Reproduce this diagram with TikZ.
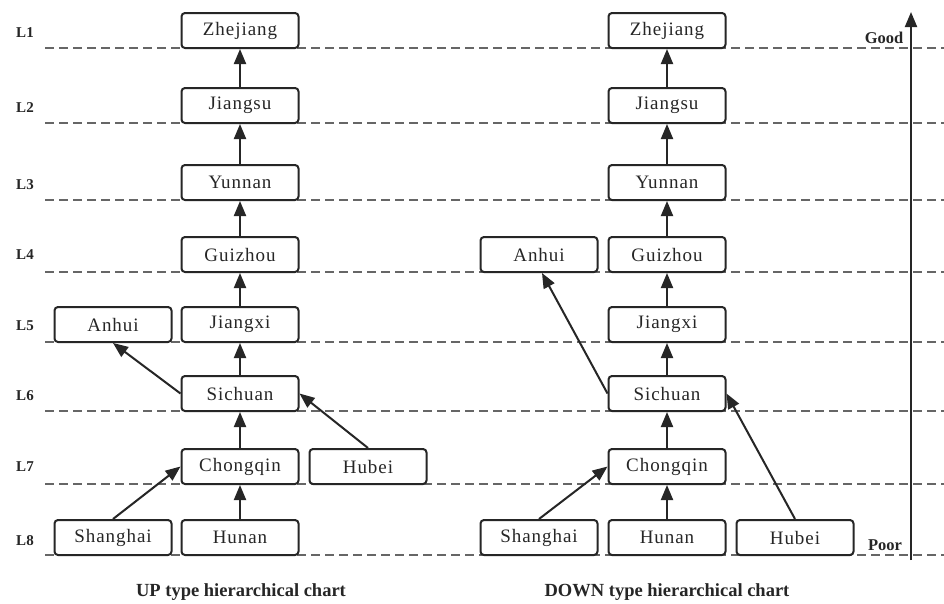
\documentclass[tikz,border=0pt]{standalone}
\usepackage{fontspec}
\setmainfont{Liberation Serif}
\newfontfamily\boxfont[LetterSpace=5]{Liberation Serif}
\usetikzlibrary{arrows.meta}
\tikzset{
  cbox/.style={draw=black!85, line width=2pt, rounded corners=3.5pt, minimum width=117pt, minimum height=35pt, inner sep=0pt, font=\boxfont\fontsize{19}{21}\selectfont, text=black!85},
  arr/.style={draw=black!85, line width=2pt, -{Triangle[length=15pt,width=12pt]}},
  lvl/.style={draw=black!60, line width=1.3pt, dash pattern=on 9pt off 5pt},
  lab/.style={font=\bfseries\fontsize{15}{17}\selectfont, text=black!85},
  captxt/.style={font=\bfseries\fontsize{18.5}{20}\selectfont, text=black!85}
}
\begin{document}
\begin{tikzpicture}[x=1pt,y=-1pt]
\useasboundingbox[fill=white] (0,0) rectangle (944,603);
% level lines
\foreach \yy in {48,123,200,272,342,411,484,555}{
  \draw[lvl] (45,\yy) -- (944,\yy);
}
\node[lab] (l1) at (25,33) {L1};
\node[lab] (l2) at (25,108) {L2};
\node[lab] (l3) at (25,185) {L3};
\node[lab] (l4) at (25,255) {L4};
\node[lab] (l5) at (25,326) {L5};
\node[lab] (l6) at (25,396) {L6};
\node[lab] (l7) at (25,467) {L7};
\node[lab] (l8) at (25,541) {L8};
% left chart
\node[cbox] (zL) at (240,30.5) {Zhejiang};
\node[cbox] (jsL) at (240,105.5) {Jiangsu};
\node[cbox] (yL) at (240,182.5) {Yunnan};
\node[cbox] (gL) at (240,254.5) {Guizhou};
\node[cbox] (jxL) at (240,324.5) {Jiangxi};
\node[cbox] (aL) at (113,324.5) {Anhui};
\node[cbox] (sL) at (240,393.5) {Sichuan};
\node[cbox] (cL) at (240,466.5) {Chongqin};
\node[cbox] (hbL) at (368,466.5) {Hubei};
\node[cbox] (shL) at (113,537.5) {Shanghai};
\node[cbox] (hnL) at (240,537.5) {Hunan};
\draw[arr] (jsL) -- (zL);
\draw[arr] (yL) -- (jsL);
\draw[arr] (gL) -- (yL);
\draw[arr] (jxL) -- (gL);
\draw[arr] (sL) -- (jxL);
\draw[arr] (cL) -- (sL);
\draw[arr] (hnL) -- (cL);
\draw[arr] (sL.west) -- (aL.south);
\draw[arr] (hbL.north) -- (sL.east);
\draw[arr] (shL.north) -- (cL.west);
% right chart
\node[cbox] (zR) at (667,30.5) {Zhejiang};
\node[cbox] (jsR) at (667,105.5) {Jiangsu};
\node[cbox] (yR) at (667,182.5) {Yunnan};
\node[cbox] (gR) at (667,254.5) {Guizhou};
\node[cbox] (aR) at (539,254.5) {Anhui};
\node[cbox] (jxR) at (667,324.5) {Jiangxi};
\node[cbox] (sR) at (667,393.5) {Sichuan};
\node[cbox] (cR) at (667,466.5) {Chongqin};
\node[cbox] (shR) at (539,537.5) {Shanghai};
\node[cbox] (hnR) at (667,537.5) {Hunan};
\node[cbox] (hbR) at (795,537.5) {Hubei};
\draw[arr] (jsR) -- (zR);
\draw[arr] (yR) -- (jsR);
\draw[arr] (gR) -- (yR);
\draw[arr] (jxR) -- (gR);
\draw[arr] (sR) -- (jxR);
\draw[arr] (cR) -- (sR);
\draw[arr] (hnR) -- (cR);
\draw[arr] (sR.west) -- ([xshift=3pt]aR.south);
\draw[arr] (hbR.north) -- (sR.east);
\draw[arr] (shR.north) -- (cR.west);
% scale arrow
\coordinate (sb) at (911,560);
\coordinate (st) at (911,12);
\draw[arr] (sb) -- (st);
\node[lab, font=\bfseries\fontsize{16.5}{18}\selectfont] (good) at (884,38) {Good};
\node[lab, font=\bfseries\fontsize{16.5}{18}\selectfont] (poor) at (885,545) {Poor};
% captions
\node[captxt] (capL) at (241,592) {UP type hierarchical chart};
\node[captxt] (capR) at (667,592) {DOWN type hierarchical chart};
\end{tikzpicture}
\end{document}
